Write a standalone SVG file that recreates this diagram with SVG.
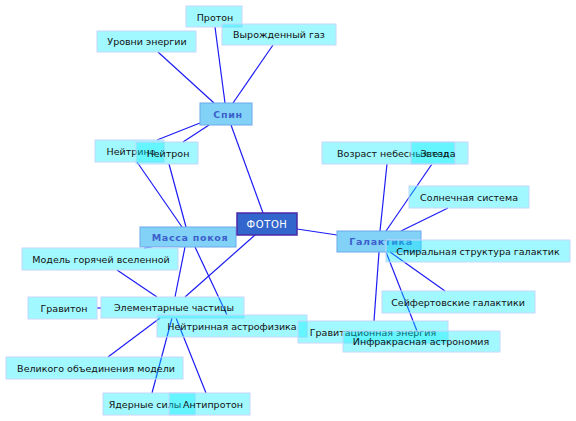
<svg xmlns="http://www.w3.org/2000/svg" width="576" height="421" viewBox="0 0 576 421">
<style>
.leaf rect{fill:#00eeff;fill-opacity:0.37;stroke:#c6d6fb;stroke-width:1}
.leaf text{font-family:"DejaVu Sans",sans-serif;font-size:9.5px;fill:#111;text-anchor:middle}
.hub rect{fill:#82d2f7;stroke:#6aa8ec;stroke-width:1}
.hub text{font-family:"DejaVu Sans",sans-serif;font-size:9.5px;font-weight:bold;fill:#3c5fcc;text-anchor:middle;letter-spacing:0.7px}
.root rect{fill:#3366cc;stroke:#4b2aa8;stroke-width:1.5}
.root text{font-family:"DejaVu Sans",sans-serif;font-size:10px;fill:#fff;text-anchor:middle;letter-spacing:0.6px}
.links line{stroke:#1c1cf5;stroke-width:1.2}
</style>
<rect width="576" height="421" fill="#fff"/>
<g class="links" id="connectors">
<line x1="215" y1="27" x2="225" y2="103"/>
<line x1="158" y1="52" x2="214" y2="103"/>
<line x1="273" y1="45" x2="233" y2="103"/>
<line x1="157" y1="140" x2="200" y2="123"/>
<line x1="183" y1="142" x2="209" y2="125"/>
<line x1="231" y1="125" x2="263" y2="213"/>
<line x1="137" y1="162" x2="182" y2="227"/>
<line x1="169" y1="164" x2="186" y2="227"/>
<line x1="144" y1="248" x2="152" y2="247"/>
<line x1="185" y1="247" x2="175" y2="297"/>
<line x1="195" y1="247" x2="227" y2="315"/>
<line x1="255" y1="235" x2="185" y2="297"/>
<line x1="297" y1="229" x2="337" y2="235"/>
<line x1="117" y1="270" x2="157" y2="297"/>
<line x1="97" y1="308" x2="101" y2="308"/>
<line x1="160" y1="318" x2="108" y2="357"/>
<line x1="172" y1="318" x2="152" y2="393"/>
<line x1="176" y1="318" x2="206" y2="393"/>
<line x1="387" y1="164" x2="380" y2="231"/>
<line x1="432" y1="164" x2="386" y2="231"/>
<line x1="448" y1="208" x2="401" y2="231"/>
<line x1="390" y1="252" x2="445" y2="291"/>
<line x1="379" y1="252" x2="374" y2="321"/>
<line x1="386" y1="252" x2="417" y2="331"/>
</g>
<g id="proton" class="leaf"><rect x="186" y="6" width="56" height="21"/><text x="215" y="20.5">Протон</text></g>
<g id="urovni" class="leaf"><rect x="97" y="31" width="99" height="21"/><text x="147" y="45">Уровни энергии</text></g>
<g id="vyrozh" class="leaf"><rect x="222" y="24" width="114" height="21"/><text x="279" y="38">Вырожденный газ</text></g>
<g id="spin" class="hub"><rect x="200" y="103" width="52" height="22"/><text x="228" y="117.5">Спин</text></g>
<g id="neytrino" class="leaf"><rect x="95" y="140" width="69" height="22"/><text x="131" y="154.5">Нейтрино</text></g>
<g id="neytron" class="leaf"><rect x="136" y="142" width="62" height="22"/><text x="168" y="156.5">Нейтрон</text></g>
<g id="massa" class="hub"><rect x="140" y="227" width="96" height="20"/><text x="190" y="240.5">Масса покоя</text></g>
<g id="model" class="leaf"><rect x="22" y="248" width="156" height="22"/><text x="101" y="262.5">Модель горячей вселенной</text></g>
<g id="graviton" class="leaf"><rect x="28" y="297" width="69" height="22"/><text x="64" y="311.5">Гравитон</text></g>
<g id="element" class="leaf"><rect x="101" y="297" width="143" height="21"/><text x="174" y="311">Элементарные частицы</text></g>
<g id="neytrinnaya" class="leaf"><rect x="157" y="315" width="150" height="22"/><text x="232" y="329.5">Нейтринная астрофизика</text></g>
<g id="velikogo" class="leaf"><rect x="6" y="357" width="177" height="22"/><text x="96" y="371.5">Великого объединения модели</text></g>
<g id="yadernye" class="leaf"><rect x="103" y="393" width="92" height="22"/><text x="145" y="407.5">Ядерные силы</text></g>
<g id="antiproton" class="leaf"><rect x="169" y="393" width="81" height="22"/><text x="213" y="407.5">Антипротон</text></g>
<g id="foton" class="root"><rect x="237" y="213" width="60" height="22"/><text x="267" y="227.5">ФОТОН</text></g>
<g id="galaktika" class="hub"><rect x="337" y="231" width="84" height="21"/><text x="381" y="245">Галактика</text></g>
<g id="vozrast" class="leaf"><rect x="322" y="142" width="146" height="22"/><text x="393" y="156.5">Возраст небесных тел</text></g>
<g id="zvezda" class="leaf"><rect x="411" y="142" width="44" height="22"/><text x="438" y="156.5">Звезда</text></g>
<g id="solnechnaya" class="leaf"><rect x="409" y="186" width="120" height="22"/><text x="469" y="200.5">Солнечная система</text></g>
<g id="spiral" class="leaf"><rect x="386" y="240" width="184" height="22"/><text x="478" y="254.5">Спиральная структура галактик</text></g>
<g id="seyfert" class="leaf"><rect x="382" y="291" width="153" height="22"/><text x="458" y="305.5">Сейфертовские галактики</text></g>
<g id="gravitac" class="leaf"><rect x="298" y="321" width="150" height="22"/><text x="373" y="335.5">Гравитационная энергия</text></g>
<g id="infra" class="leaf"><rect x="343" y="331" width="157" height="21"/><text x="421" y="345">Инфракрасная астрономия</text></g>
</svg>
